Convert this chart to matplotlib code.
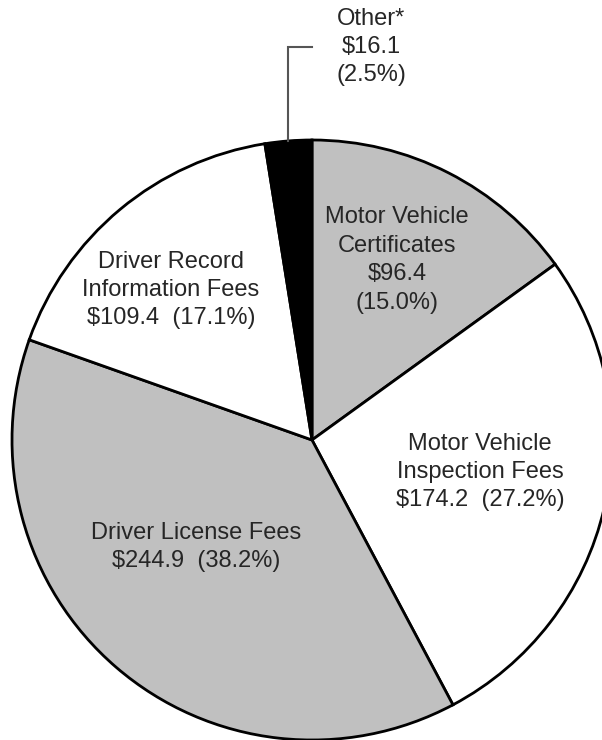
import numpy as np
import matplotlib
matplotlib.use("Agg")
import matplotlib.pyplot as plt

categories = ["Motor Vehicle\nCertificates", "Motor Vehicle\nInspection Fees",
              "Driver License Fees", "Driver Record\nInformation Fees", "Other*"]
values = [96.4, 174.2, 244.9, 109.4, 16.1]
percents = [15.0, 27.2, 38.2, 17.1, 2.5]
colors = ["#c0c0c0", "#ffffff", "#c0c0c0", "#ffffff", "#000000"]

W, H = 602, 740
fig = plt.figure(figsize=(W / 100, H / 100), dpi=100)
ax = fig.add_axes([0, 0, 1, 1])
ax.set_axis_off()

cx, cy, R = 312, H - 440, 300
ax.pie(values, colors=colors, startangle=90, counterclock=False,
       center=(cx, cy), radius=R,
       wedgeprops=dict(edgecolor="black", linewidth=2))
ax.set_xlim(0, W)
ax.set_ylim(0, H)
ax.set_aspect("auto")

font = dict(family=["Liberation Sans", "DejaVu Sans"], fontsize=17, color="#262626",
            ha="center", va="center", linespacing=1.38)

labels = [
    f"Motor Vehicle\nCertificates\n${values[0]:.1f}\n({percents[0]:.1f}%)",
    f"Motor Vehicle\nInspection Fees\n${values[1]:.1f}  ({percents[1]:.1f}%)",
    f"Driver License Fees\n${values[2]:.1f}  ({percents[2]:.1f}%)",
    f"Driver Record\nInformation Fees\n${values[3]:.1f}  ({percents[3]:.1f}%)",
    f"Other*\n${values[4]:.1f}\n({percents[4]:.1f}%)",
]
pos = [(397, 260), (480, 472), (196, 547), (171, 290), (371, 47)]
for lab, (x, y) in zip(labels, pos):
    ax.text(x, H - y, lab, **font)

# leader line for "Other"
total = sum(values)
mid = 90 - 360 * (sum(values[:4]) + values[4] / 2) / total
lx = cx + R * np.cos(np.radians(mid))
ly = cy + R * np.sin(np.radians(mid))
ax.plot([lx, lx, 312], [ly, H - 47, H - 47], color="#555555", lw=1.5,
        solid_joinstyle="miter")

fig.savefig("out.png", dpi=100)
